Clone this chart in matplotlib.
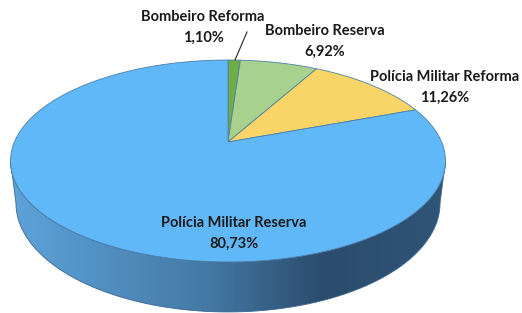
import numpy as np
import matplotlib.pyplot as plt
from matplotlib.patches import Polygon
from matplotlib.colors import LinearSegmentedColormap

plt.rcParams['font.family'] = ['Lato', 'DejaVu Sans']

categories = ['Bombeiro Reforma', 'Bombeiro Reserva',
              'Polícia Militar Reforma', 'Polícia Militar Reserva']
shares = [1.10, 6.92, 11.26, 80.73]
pct_labels = ['1,10%', '6,92%', '11,26%', '80,73%']
colors = ['#70AD47', '#A9D18E', '#F9D466', '#60B8F8']

# where the labels sit (pixel coords)
label_pos = [(203, 27), (325, 41), (445, 87), (234, 233)]

# 3d-ish projection of the pie disc
cx, cy = 228, 142
sx, sy = 213.6, 97.4
e = 0.188
depth = 40.6


def project(theta, dz=0.0, shrink=1.0):
    x = np.cos(theta)
    y = np.sin(theta)
    w = 1 + e * y
    u = cx + shrink * sx * x / w
    v = cy - sy * y / w + dz / w
    return u, v


fig = plt.figure(figsize=(5.22, 3.13), dpi=100)
ax = fig.add_axes([0, 0, 1, 1])

# side of the cake (all of it belongs to the big slice)
a0 = np.pi + np.arcsin(e)
a1 = 2 * np.pi - np.arcsin(e)
t = np.linspace(a0, a1, 200)
tu, tv = project(t)
bu, bv = project(t, dz=depth, shrink=0.975)
side_pts = np.column_stack([np.concatenate([tu, bu[::-1]]),
                            np.concatenate([tv, bv[::-1]])])
side = Polygon(side_pts, closed=True, facecolor='none',
               edgecolor='#3b6790', lw=0.6, zorder=2)
ax.add_patch(side)

side_cmap = LinearSegmentedColormap.from_list(
    'side', [(0, '#5DA3DA'), (0.45, '#4479A5'), (0.72, '#2B4C6C'), (1, '#2F5577')])
grad = np.linspace(0, 1, 256).reshape(1, -1)
img = ax.imshow(grad, cmap=side_cmap, aspect='auto',
                extent=(side_pts[:, 0].min(), side_pts[:, 0].max(), 315, 130), zorder=1)
img.set_clip_path(side)

# top of the pie, clockwise from 12 o'clock
total = sum(shares)
start = 0.0
for share, col in zip(shares, colors):
    th0 = np.pi / 2 - 2 * np.pi * start / total
    th1 = np.pi / 2 - 2 * np.pi * (start + share) / total
    n = max(int(abs(th1 - th0) * 80), 4)
    arc = np.linspace(th0, th1, n)
    u, v = project(arc)
    pts = np.column_stack([np.concatenate([[cx], u]), np.concatenate([[cy], v])])
    ax.add_patch(Polygon(pts, closed=True, facecolor=col,
                         edgecolor='#4d7fa8', lw=0.6, zorder=3))
    start += share

for cat, pct, (lx, ly) in zip(categories, pct_labels, label_pos):
    ax.text(lx, ly, cat + '\n' + pct, ha='center', va='center',
            fontsize=10.5, fontweight='bold', color='#1a1a1a',
            linespacing=1.6, zorder=5)

# leader line for the tiny slice
ax.plot([235, 247], [60, 32], color='#262626', lw=0.8, zorder=4)

ax.set_xlim(0, 522)
ax.set_ylim(313, 0)
ax.axis('off')
fig.savefig('out.png', dpi=100)
